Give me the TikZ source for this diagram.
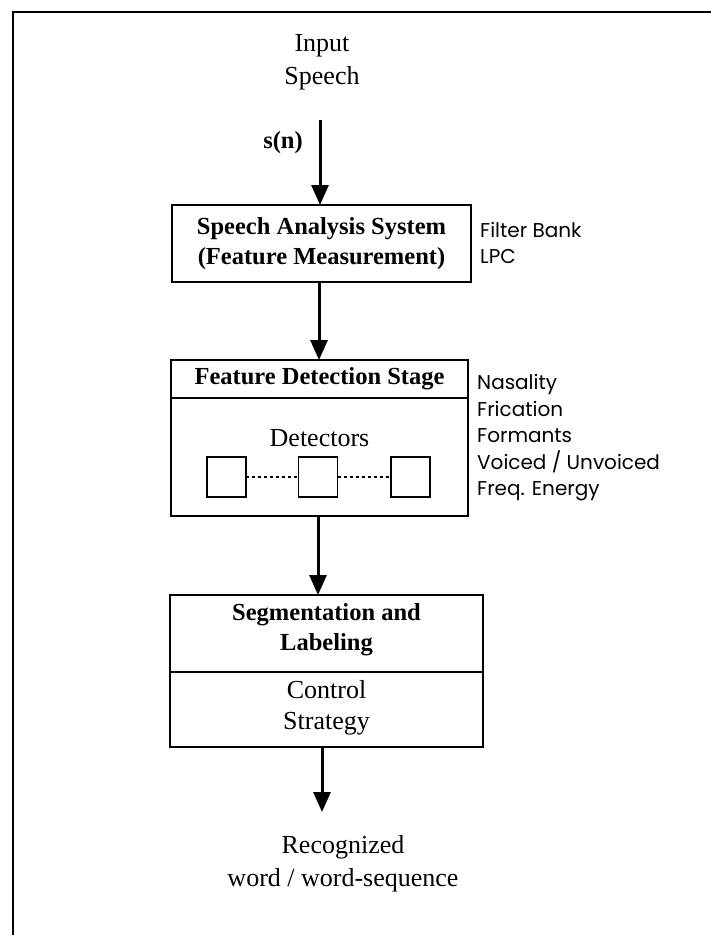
\documentclass[tikz,border=0pt]{standalone}
\usepackage{fontspec}
\setmainfont{Liberation Serif}
\newfontfamily\labfont{Poppins}
\usetikzlibrary{arrows.meta}
\tikzset{
  frame/.style={line width=2pt},
  boxx/.style={draw, line width=2pt, rectangle, inner sep=0pt, outer sep=0pt},
  detbox/.style={draw, line width=1.6pt, rectangle, minimum width=39pt, minimum height=40pt, inner sep=0pt, outer sep=0pt},
  arr/.style={line width=3pt, -{Triangle[width=17pt,length=20pt]}},
  dots/.style={line width=1.2pt, dash pattern=on 3pt off 3pt},
  reg/.style={font=\fontsize{26}{33}\selectfont, align=center, inner sep=0pt},
  bld/.style={font=\fontsize{24.5}{30}\selectfont\bfseries, align=center, inner sep=0pt},
  lab/.style={font=\labfont\fontsize{20}{26.5}\selectfont, align=left, anchor=west, inner sep=0pt},
}
\begin{document}
\begin{tikzpicture}[x=1pt,y=-1pt]
\useasboundingbox (0,0) rectangle (711,935);
\begin{scope}
\clip (0,0) rectangle (711,935);
\draw[frame] (13,950) -- (13,12) -- (730,12);
\end{scope}

% input
\node[reg] (inp) at (322,62) {Input\\Speech};
\coordinate (instart) at (320,120);
\node[bld] (sn) at (283,143) {s(n)};

% box 1
\node[boxx, minimum width=299pt, minimum height=77pt, bld] (b1) at (321.5,243.5) {Speech Analysis System\\(Feature Measurement)};
\node[lab] (fb) at (480,243) {Filter Bank\\LPC};

% box 2
\node[boxx, minimum width=297pt, minimum height=38pt] (b2h) at (319.5,379) {};
\node[bld] (b2t) at (b2h.center) {Feature Detection Stage};
\node[boxx, minimum width=297pt, minimum height=118pt, anchor=north] (b2b) at (b2h.south) {};
\node[reg] (det) at (319.5,438) {Detectors};
\node[detbox] (d1) at (226.5,477) {};
\node[detbox] (d2) at (318,477) {};
\node[detbox] (d3) at (410.5,477) {};
\draw[dots] (d1.east) -- (d2.west);
\draw[dots] (d2.east) -- (d3.west);
\node[lab] (feat) at (477,438) {Nasality\\Frication\\Formants\\Voiced / Unvoiced\\Freq. Energy};

% box 3
\node[boxx, minimum width=313pt, minimum height=77pt] (b3h) at (326.5,633.5) {};
\node[bld] (b3t) at (326.5,630) {Segmentation and\\Labeling};
\node[boxx, minimum width=313pt, minimum height=75pt, anchor=north] (b3b) at (b3h.south) {};
\node[reg, font=\fontsize{26}{31}\selectfont] (cs) at (326.5,708) {Control\\Strategy};

% output
\coordinate (outend) at (322,812);
\node[reg] (rec) at (343,864) {Recognized\\word / word-sequence};

% arrows
\draw[arr] (instart) -- (instart |- b1.north);
\draw[arr] (b1.south -| 319,0) -- (319,0 |- b2h.north);
\draw[arr] (318,0 |- b2b.south) -- (318,0 |- b3h.north);
\draw[arr] (322,0 |- b3b.south) -- (outend);
\end{tikzpicture}
\end{document}
